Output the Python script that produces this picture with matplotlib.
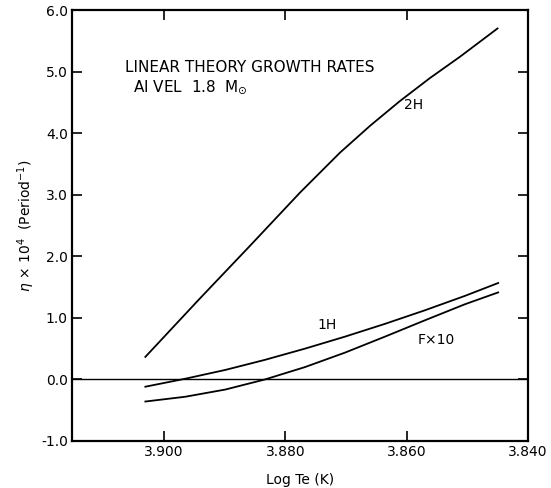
import matplotlib
matplotlib.use("Agg")
import matplotlib.pyplot as plt

plt.rcParams['font.family'] = ['DejaVu Sans']

# Data (x = log Te, y = growth rate eta x 1e4)
x_2h = [3.9031, 3.8941, 3.8858, 3.8776, 3.8710, 3.8660, 3.8611, 3.8562, 3.8512, 3.8450]
y_2h = [0.36, 1.31, 2.17, 3.03, 3.68, 4.12, 4.52, 4.89, 5.24, 5.70]

x_1h = [3.9031, 3.8965, 3.8899, 3.8834, 3.8768, 3.8702, 3.8636, 3.8570, 3.8504, 3.8449]
y_1h = [-0.125, 0.005, 0.148, 0.311, 0.493, 0.688, 0.896, 1.117, 1.351, 1.561]

x_f = [3.9031, 3.8965, 3.8899, 3.8834, 3.8768, 3.8702, 3.8636, 3.8570, 3.8504, 3.8449]
y_f = [-0.366, -0.288, -0.171, -0.008, 0.193, 0.428, 0.688, 0.954, 1.215, 1.408]

x_ticks = [3.900, 3.880, 3.860, 3.840]
x_ticklabels = ["3.900", "3.880", "3.860", "3.840"]
y_ticks = [-1.0, 0.0, 1.0, 2.0, 3.0, 4.0, 5.0, 6.0]
y_ticklabels = ["-1.0", "0.0", "1.0", "2.0", "3.0", "4.0", "5.0", "6.0"]

fig = plt.figure(figsize=(5.51, 4.88), dpi=100)
ax = fig.add_axes([0.1307, 0.0973, 0.8273, 0.8822])

lw = 1.3
ax.plot(x_2h, y_2h, color='black', lw=lw)
ax.plot(x_1h, y_1h, color='black', lw=lw)
ax.plot(x_f, y_f, color='black', lw=lw)
ax.axhline(0.0, color='black', lw=1.0)

ax.set_xlim(3.9152, 3.840)
ax.set_ylim(-1.0, 6.0)
ax.set_xticks(x_ticks)
ax.set_xticklabels(x_ticklabels)
ax.set_yticks(y_ticks)
ax.set_yticklabels(y_ticklabels)
ax.tick_params(direction='in', length=7, width=1.2, labelsize=10, top=True, right=True, pad=3)
for s in ax.spines.values():
    s.set_linewidth(1.6)

ax.set_xlabel("Log Te (K)", fontsize=10, labelpad=10)
ax.set_ylabel(r"$\eta$ $\times$ 10$^4$  (Period$^{-1}$)", fontsize=10, labelpad=3)

ax.text(3.9064, 5.07, "LINEAR THEORY GROWTH RATES", fontsize=11, ha='left', va='center')
ax.text(3.9051, 4.75, r"AI VEL  1.8  M$_{\odot}$", fontsize=11, ha='left', va='center')

ax.text(3.8589, 4.455, "2H", fontsize=10, ha='center', va='center')
ax.text(3.8732, 0.878, "1H", fontsize=10, ha='center', va='center')
ax.text(3.8551, 0.634, "F\u00d710", fontsize=10, ha='center', va='center')

fig.savefig("out.png", dpi=100)
